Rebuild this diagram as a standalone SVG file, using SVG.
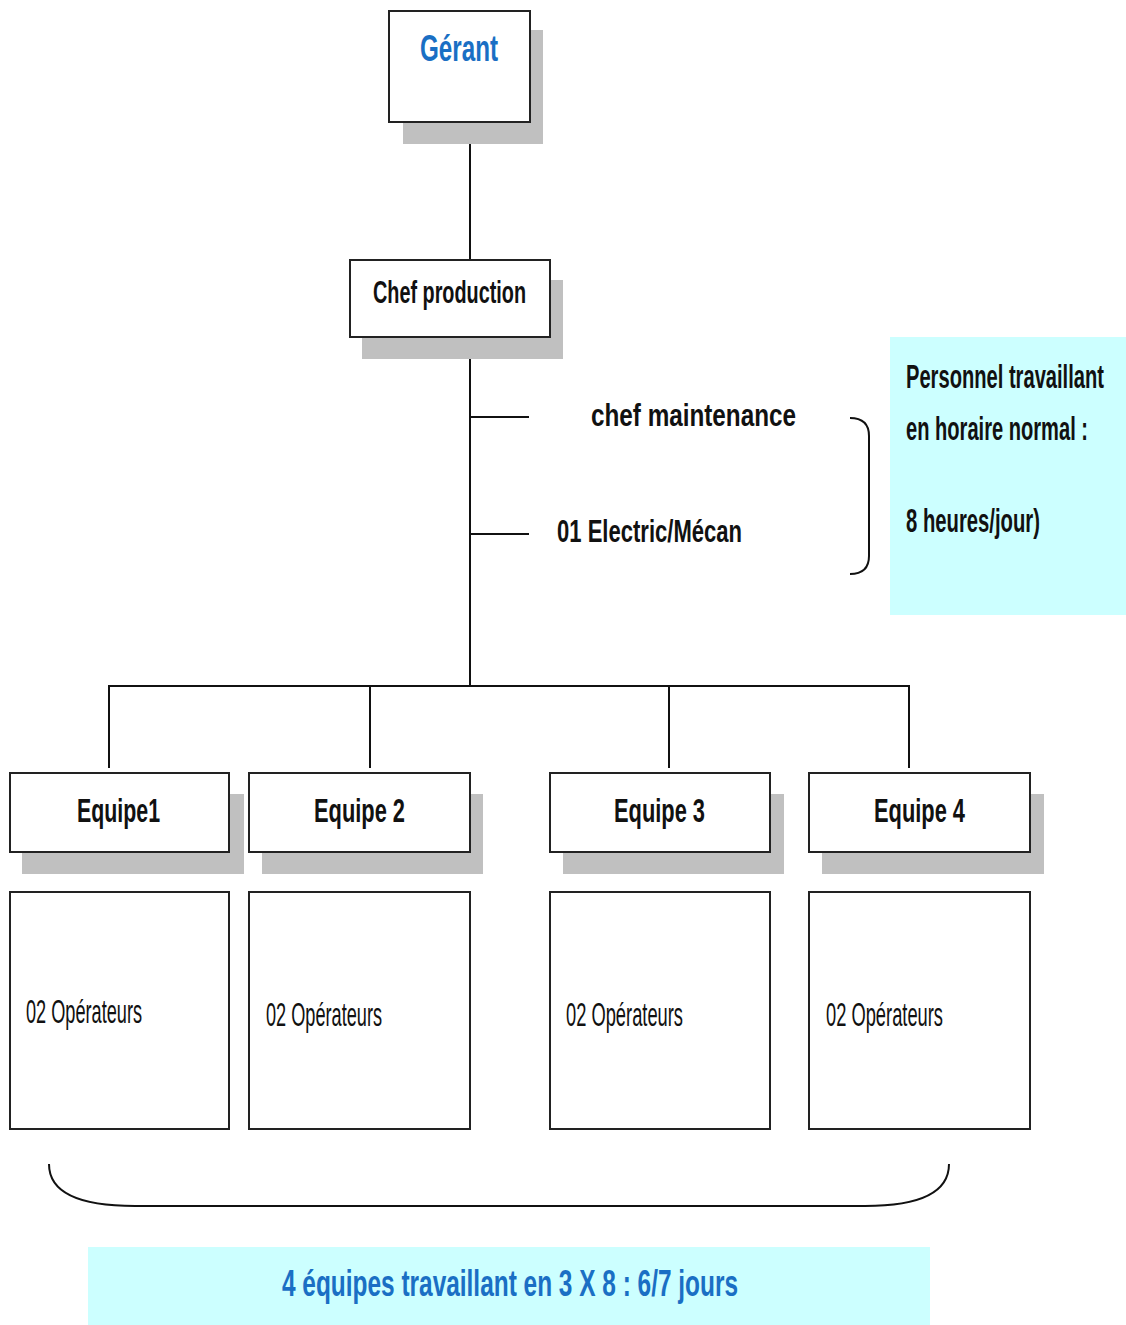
<svg xmlns="http://www.w3.org/2000/svg" width="1126" height="1325" viewBox="0 0 1126 1325">
<style>
.box{fill:#fff;stroke:#222;stroke-width:2}
.sh{fill:#c0c0c0}
.t{font-family:"Liberation Sans",Arial,sans-serif;font-weight:bold;fill:#111}
.n{font-family:"Liberation Sans",Arial,sans-serif;font-weight:normal;fill:#111}
.blue{fill:#1a6fc4}
.cy{fill:#ccffff}
.ln{stroke:#111;stroke-width:2;fill:none}
</style>
<rect width="1126" height="1325" fill="#fff"/>
<g id="connectors">
<line class="ln" x1="470" y1="122" x2="470" y2="259"/>
<line class="ln" x1="470" y1="337" x2="470" y2="686"/>
<line class="ln" x1="470" y1="417" x2="529" y2="417"/>
<line class="ln" x1="470" y1="534" x2="529" y2="534"/>
<line class="ln" x1="108" y1="686" x2="910" y2="686"/>
<line class="ln" x1="109" y1="685" x2="109" y2="768"/>
<line class="ln" x1="370" y1="685" x2="370" y2="768"/>
<line class="ln" x1="669" y1="685" x2="669" y2="768"/>
<line class="ln" x1="909" y1="685" x2="909" y2="768"/>
</g>
<g id="gerant">
<rect class="sh" x="403" y="30" width="140" height="114"/>
<rect class="box" x="389" y="11" width="141" height="111"/>
<text class="t blue" x="420" y="61" font-size="37" textLength="78" lengthAdjust="spacingAndGlyphs">Gérant</text>
</g>
<g id="chef-production">
<rect class="sh" x="362" y="280" width="201" height="79"/>
<rect class="box" x="350" y="260" width="200" height="77"/>
<text class="t" x="373" y="303" font-size="32" textLength="153" lengthAdjust="spacingAndGlyphs">Chef production</text>
</g>
<g id="chef-maintenance">
<text class="t" x="591" y="426" font-size="32" textLength="205" lengthAdjust="spacingAndGlyphs">chef maintenance</text>
</g>
<g id="electric-mecan">
<text class="t" x="557" y="542" font-size="32" textLength="185" lengthAdjust="spacingAndGlyphs">01 Electric/Mécan</text>
</g>
<g id="brace-right">
<path class="ln" d="M850,418 Q869,418 869,436 L869,556 Q869,574 850,574"/>
</g>
<g id="note-normal">
<rect class="cy" x="890" y="337" width="236" height="278"/>
<text class="t" x="906" y="388" font-size="34" textLength="198" lengthAdjust="spacingAndGlyphs">Personnel travaillant</text>
<text class="t" x="906" y="440" font-size="34" textLength="182" lengthAdjust="spacingAndGlyphs">en horaire normal :</text>
<text class="t" x="906" y="532" font-size="34" textLength="134" lengthAdjust="spacingAndGlyphs">8 heures/jour)</text>
</g>
<g id="equipe1">
<rect class="sh" x="22" y="794" width="222" height="80"/>
<rect class="box" x="10" y="773" width="219" height="79"/>
<text class="t" x="77" y="822" font-size="34" textLength="83" lengthAdjust="spacingAndGlyphs">Equipe1</text>
</g>
<g id="equipe2">
<rect class="sh" x="262" y="794" width="221" height="80"/>
<rect class="box" x="249" y="773" width="221" height="79"/>
<text class="t" x="314" y="822" font-size="34" textLength="91" lengthAdjust="spacingAndGlyphs">Equipe 2</text>
</g>
<g id="equipe3">
<rect class="sh" x="563" y="794" width="221" height="80"/>
<rect class="box" x="550" y="773" width="220" height="79"/>
<text class="t" x="614" y="822" font-size="34" textLength="91" lengthAdjust="spacingAndGlyphs">Equipe 3</text>
</g>
<g id="equipe4">
<rect class="sh" x="822" y="794" width="222" height="80"/>
<rect class="box" x="809" y="773" width="221" height="79"/>
<text class="t" x="874" y="822" font-size="34" textLength="91" lengthAdjust="spacingAndGlyphs">Equipe 4</text>
</g>
<g id="operateurs1">
<rect class="box" x="10" y="892" width="219" height="237"/>
<text class="n" x="26" y="1023" font-size="33" textLength="116" lengthAdjust="spacingAndGlyphs">02 Opérateurs</text>
</g>
<g id="operateurs2">
<rect class="box" x="249" y="892" width="221" height="237"/>
<text class="n" x="266" y="1026" font-size="33" textLength="116" lengthAdjust="spacingAndGlyphs">02 Opérateurs</text>
</g>
<g id="operateurs3">
<rect class="box" x="550" y="892" width="220" height="237"/>
<text class="n" x="566" y="1026" font-size="33" textLength="117" lengthAdjust="spacingAndGlyphs">02 Opérateurs</text>
</g>
<g id="operateurs4">
<rect class="box" x="809" y="892" width="221" height="237"/>
<text class="n" x="826" y="1026" font-size="33" textLength="117" lengthAdjust="spacingAndGlyphs">02 Opérateurs</text>
</g>
<g id="brace-bottom">
<path class="ln" d="M49,1164 Q49,1206 135,1206 L865,1206 Q949,1206 949,1164"/>
</g>
<g id="note-equipes">
<rect class="cy" x="88" y="1247" width="842" height="78"/>
<text class="t blue" x="282" y="1296" font-size="36" textLength="456" lengthAdjust="spacingAndGlyphs">4 équipes travaillant en 3 X 8 : 6/7 jours</text>
</g>
</svg>
